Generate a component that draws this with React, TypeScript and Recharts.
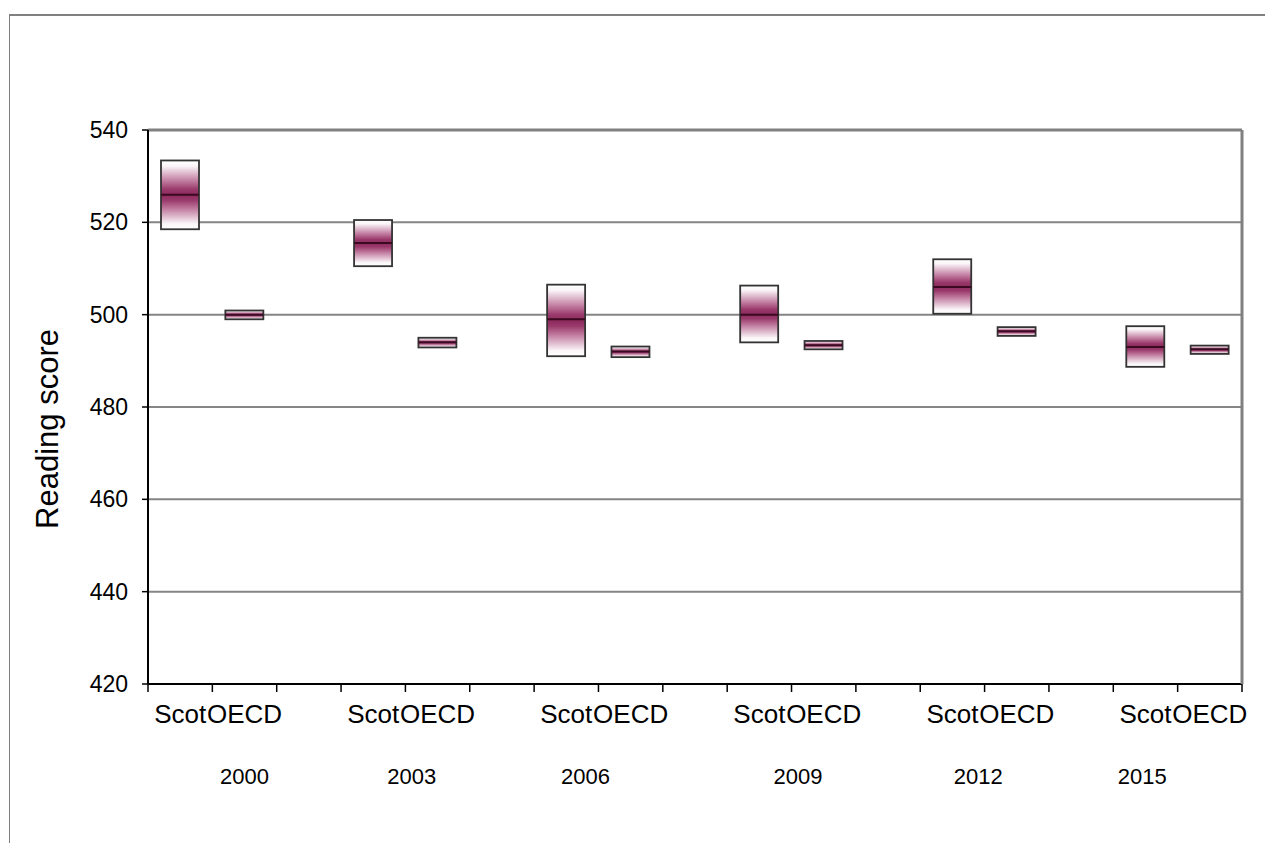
import { ComposedChart, Bar, XAxis, YAxis, CartesianGrid, ReferenceLine } from "recharts";

// PISA reading: Scotland vs OECD average, mean score with confidence band
const YEARS = ["2000", "2003", "2006", "2009", "2012", "2015"];
const SCOT_MEAN = [526, 515.5, 499, 500, 506, 493];
const SCOT_LOW = [518.5, 510.5, 491, 494, 500.2, 488.7];
const SCOT_HIGH = [533.4, 520.5, 506.5, 506.3, 512, 497.5];
const OECD_MEAN = [500, 494, 492, 493.4, 496.4, 492.5];
const OECD_LOW = [499, 492.9, 490.8, 492.5, 495.4, 491.5];
const OECD_HIGH = [500.9, 495, 493.1, 494.3, 497.3, 493.3];
const Y_TICKS = [420, 440, 460, 480, 500, 520, 540];

// where the year captions sit, in category slots from the left edge
const YEAR_LABEL_AT = [1.5, 4.1, 6.8, 10.1, 12.9, 15.45];

const FONT = "'Liberation Sans', Arial, Helvetica, sans-serif";

type Row = { name: string; slot: number; range?: [number, number]; mean?: number };

const rows: Row[] = [];
YEARS.forEach((_, i) => {
  rows.push({ name: "Scot", slot: 0, range: [SCOT_LOW[i], SCOT_HIGH[i]], mean: SCOT_MEAN[i] });
  rows.push({ name: "OECD", slot: 0, range: [OECD_LOW[i], OECD_HIGH[i]], mean: OECD_MEAN[i] });
  if (i < YEARS.length - 1) rows.push({ name: "", slot: 0 });
});
// slot = centre of each category in "slot units" (0..17 across the plot)
rows.forEach((r, i) => (r.slot = i + 0.5));

const SLOTS = rows.length;
const BOUNDS = Array.from({ length: SLOTS + 1 }, (_, i) => i);

function RangeBox(props: any) {
  const { x, y, width, height, payload, index } = props;
  if (!payload || !payload.range || !height) return null;
  const [lo, hi] = payload.range;
  const top = Math.min(y, y + height);
  const h = Math.abs(height);
  const my = top + (h * (hi - payload.mean)) / (hi - lo);
  const id = `boxFill${index}`;
  return (
    <g>
      <defs>
        <linearGradient id={id} x1="0" y1="0" x2="0" y2="1">
          <stop offset="0" stopColor="#ffffff" />
          <stop offset="0.08" stopColor="#faf5f8" />
          <stop offset="0.3" stopColor="#c07a9e" />
          <stop offset="0.42" stopColor="#9a3a6c" />
          <stop offset="0.5" stopColor="#8c2a5c" />
          <stop offset="0.58" stopColor="#9a3a6c" />
          <stop offset="0.7" stopColor="#c07a9e" />
          <stop offset="0.92" stopColor="#faf5f8" />
          <stop offset="1" stopColor="#ffffff" />
        </linearGradient>
      </defs>
      <rect x={x} y={top} width={width} height={h} fill={`url(#${id})`} stroke="#333333" strokeWidth={1.8} />
      <line x1={x} x2={x + width} y1={my} y2={my} stroke="#3b0a22" strokeWidth={2} />
    </g>
  );
}

export default function App() {
  return (
    <div
      style={{
        position: "fixed",
        left: 0,
        top: 0,
        width: 1265,
        height: 843,
        overflow: "hidden",
        background: "#fff",
      }}
    >
      <div
        style={{
          position: "absolute",
          left: 9,
          top: 14,
          width: 1400,
          height: 1000,
          borderTop: "2px solid #808080",
          borderLeft: "1px solid #808080",
        }}
      />
      <div style={{ position: "absolute", left: 0, top: 0 }}>
        <ComposedChart
          width={1265}
          height={843}
          data={rows}
          margin={{ top: 130, right: 22, left: 0, bottom: 53 }}
          style={{ fontFamily: FONT }}
        >
          <CartesianGrid xAxisId="bounds" vertical={false} stroke="#858585" strokeWidth={2} />
          <ReferenceLine xAxisId="bounds" y={540} stroke="#808080" strokeWidth={3} />
          <XAxis
            xAxisId="bounds"
            dataKey="slot"
            type="number"
            domain={[0, SLOTS]}
            ticks={BOUNDS}
            interval={0}
            allowDataOverflow
            height={1}
            tickFormatter={() => ""}
            tickSize={8}
            tickLine={{ stroke: "#000", strokeWidth: 1.5 }}
            axisLine={{ stroke: "#000", strokeWidth: 2 }}
          />
          <XAxis
            xAxisId="cat"
            dataKey="name"
            interval={0}
            height={45}
            axisLine={false}
            tickLine={false}
            tickSize={0}
            tickMargin={20}
            tick={{ fill: "#000", fontSize: 26, fontFamily: FONT }}
          />
          <XAxis
            xAxisId="years"
            dataKey="slot"
            type="number"
            domain={[0, SLOTS]}
            ticks={YEAR_LABEL_AT}
            interval={0}
            allowDataOverflow
            height={60}
            axisLine={false}
            tickLine={false}
            tickSize={0}
            tickMargin={38}
            tickFormatter={(v: number) => YEARS[YEAR_LABEL_AT.indexOf(v)]}
            tick={{ fill: "#000", fontSize: 22, fontFamily: FONT }}
          />
          <YAxis
            domain={[420, 540]}
            ticks={Y_TICKS}
            interval={0}
            width={148}
            tickSize={6}
            tickMargin={14}
            axisLine={{ stroke: "#000", strokeWidth: 2 }}
            tickLine={{ stroke: "#000", strokeWidth: 1.5 }}
            tick={{ fill: "#000", fontSize: 23, fontFamily: FONT }}
            label={{
              value: "Reading score",
              angle: -90,
              position: "center",
              dx: -27,
              dy: 22,
              fill: "#000",
              fontSize: 31,
              fontFamily: FONT,
            }}
          />
          {/* right edge of the plot frame */}
          <YAxis
            yAxisId="frame"
            orientation="right"
            domain={[420, 540]}
            width={1}
            tick={false}
            tickLine={false}
            axisLine={{ stroke: "#808080", strokeWidth: 3 }}
          />
          <Bar
            xAxisId="cat"
            dataKey="range"
            barSize={38}
            shape={RangeBox}
            isAnimationActive={false}
          />
        </ComposedChart>
      </div>
    </div>
  );
}
